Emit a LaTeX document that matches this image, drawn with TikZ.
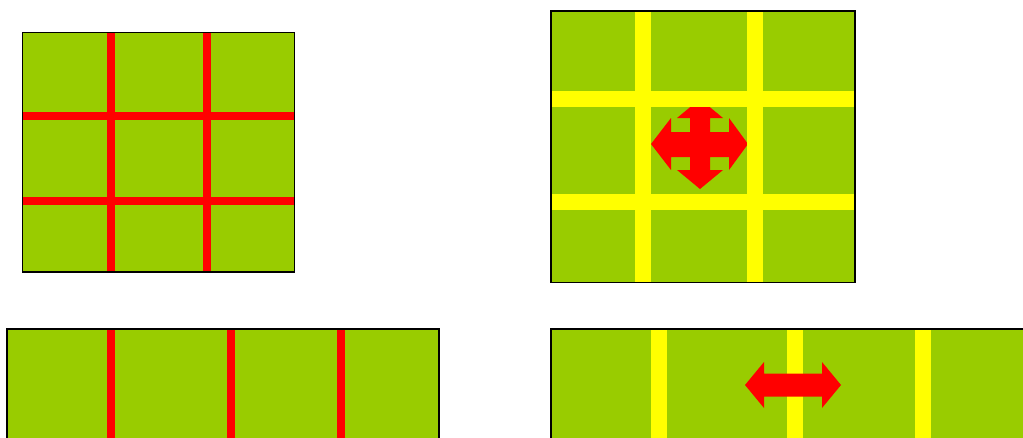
\documentclass[tikz,border=0pt]{standalone}
\definecolor{panelgreen}{RGB}{153,204,0}
\definecolor{baryellow}{RGB}{255,255,0}
\definecolor{barred}{RGB}{255,0,0}
\begin{document}
\begin{tikzpicture}[x=1pt,y=-1pt,
  panelfill/.style={fill=panelgreen},
  panelborder/.style={draw=black,line width=1.6pt},
  redbar/.style={draw=barred,line width=8pt},
  yelbar/.style={draw=baryellow,line width=16pt},
  arrowshape/.style={fill=barred}]
\useasboundingbox (0,0) rectangle (1023,437);

% ---- top-left panel ----
\fill[panelfill] (22.5,32.5) rectangle (294.5,272);
\draw[redbar] (111,32.5) -- (111,272);
\draw[redbar] (207,32.5) -- (207,272);
\draw[redbar] (22.5,116) -- (294.5,116);
\draw[redbar] (22.5,200.5) -- (294.5,200.5);
\draw[panelborder] (22.5,32.5) rectangle (294.5,272);

% ---- top-right panel ----
\fill[panelfill] (551,11) rectangle (855,282.5);
\fill[arrowshape] (700,99) -- (723,118) -- (710,118) -- (710,132) -- (729,132) -- (729,118)
  -- (748,144) -- (729,170) -- (729,157) -- (710,157) -- (710,170) -- (723,170)
  -- (700,189) -- (677,170) -- (690,170) -- (690,157) -- (671,157) -- (671,170)
  -- (651,144) -- (671,118) -- (671,132) -- (690,132) -- (690,118) -- (677,118) -- cycle;
\draw[yelbar] (643,11) -- (643,282.5);
\draw[yelbar] (755,11) -- (755,282.5);
\draw[yelbar] (551,99) -- (855,99);
\draw[yelbar] (551,202) -- (855,202);
\draw[panelborder] (551,11) rectangle (855,282.5);

% ---- bottom-left panel ----
\fill[panelfill] (7,329) rectangle (439,450);
\draw[redbar] (111,329) -- (111,450);
\draw[redbar] (231,329) -- (231,450);
\draw[redbar] (341,329) -- (341,450);
\draw[panelborder] (7,329) rectangle (439,450);

% ---- bottom-right panel ----
\fill[panelfill] (551,329) rectangle (1040,450);
\draw[yelbar] (659,329) -- (659,450);
\draw[yelbar] (795,329) -- (795,450);
\draw[yelbar] (923,329) -- (923,450);
\fill[arrowshape] (745,385) -- (764,362) -- (764,373.5) -- (822,373.5) -- (822,362)
  -- (841,385) -- (822,408) -- (822,396.5) -- (764,396.5) -- (764,408) -- cycle;
\draw[panelborder] (551,329) rectangle (1040,450);
\end{tikzpicture}
\end{document}
